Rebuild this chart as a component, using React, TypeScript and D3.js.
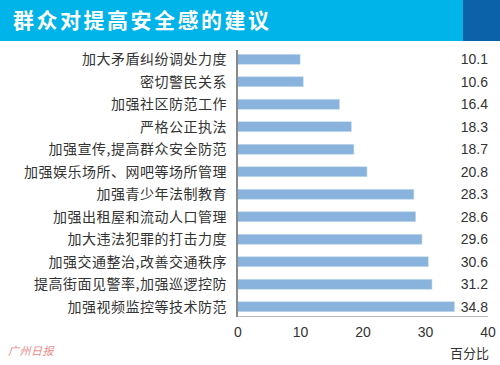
import { useEffect, useRef } from 'react';
import * as d3 from 'd3';

const categories = [
  '加大矛盾纠纷调处力度',
  '密切警民关系',
  '加强社区防范工作',
  '严格公正执法',
  '加强宣传,提高群众安全防范',
  '加强娱乐场所、网吧等场所管理',
  '加强青少年法制教育',
  '加强出租屋和流动人口管理',
  '加大违法犯罪的打击力度',
  '加强交通整治,改善交通秩序',
  '提高街面见警率,加强巡逻控防',
  '加强视频监控等技术防范',
];
const values = [10.1, 10.6, 16.4, 18.3, 18.7, 20.8, 28.3, 28.6, 29.6, 30.6, 31.2, 34.8];
const xTicks = [0, 10, 20, 30, 40];
const title = '群众对提高安全感的建议';
const unitLabel = '百分比';
const sourceLabel = '广州日报';

export default function App() {
  const ref = useRef<SVGSVGElement>(null);

  useEffect(() => {
    if (!ref.current) return;
    const svg = d3.select(ref.current);
    svg.selectAll('*').remove();

    const width = 500;
    const font = '"Noto Sans CJK SC", "Noto Sans", sans-serif';

    // header band
    svg.append('rect').attr('x', 0).attr('y', 0).attr('width', width).attr('height', 41).attr('fill', '#00b3e9');
    svg.append('rect').attr('x', 463).attr('y', 0).attr('width', 37).attr('height', 41).attr('fill', '#0b62a8');
    svg.append('text')
      .attr('x', 13).attr('y', 28)
      .attr('fill', '#fff')
      .style('font-family', font)
      .style('font-size', '21px')
      .style('font-weight', 'bold')
      .style('letter-spacing', '2.5px')
      .text(title);

    const x = d3.scaleLinear().domain([0, 40]).range([237, 487]);
    const y = d3.scaleBand<string>().domain(categories).range([48, 318]);
    const barH = 10;

    // bottom line
    svg.append('line')
      .attr('x1', x(0)).attr('x2', 488)
      .attr('y1', 316.5).attr('y2', 316.5)
      .attr('stroke', '#b8b8b8').attr('stroke-width', 1);

    // bars
    svg.selectAll('rect.bar')
      .data(values)
      .enter()
      .append('rect')
      .attr('class', 'bar')
      .attr('x', x(0))
      .attr('y', (_, i) => y(categories[i])! + y.bandwidth() / 2 - barH / 2)
      .attr('width', d => x(d) - x(0))
      .attr('height', barH)
      .attr('fill', '#89b3dc')
      .attr('stroke', '#c5dcef')
      .attr('stroke-width', 0.6);

    // vertical axis line
    svg.append('line')
      .attr('x1', x(0)).attr('x2', x(0))
      .attr('y1', 50).attr('y2', 317)
      .attr('stroke', '#8a8a8a').attr('stroke-width', 2);

    // category labels
    svg.selectAll('text.cat')
      .data(categories)
      .enter()
      .append('text')
      .attr('class', 'cat')
      .attr('x', 227)
      .attr('y', d => y(d)! + y.bandwidth() / 2)
      .attr('dy', '0.35em')
      .attr('text-anchor', 'end')
      .attr('fill', '#333')
      .style('font-family', font)
      .style('font-size', '14px')
      .style('letter-spacing', '0.5px')
      .text(d => d);

    // value labels
    svg.selectAll('text.val')
      .data(values)
      .enter()
      .append('text')
      .attr('class', 'val')
      .attr('x', 488)
      .attr('y', (_, i) => y(categories[i])! + y.bandwidth() / 2)
      .attr('dy', '0.36em')
      .attr('text-anchor', 'end')
      .attr('fill', '#333')
      .style('font-family', '"Liberation Sans", Arial, sans-serif')
      .style('font-size', '14px')
      .text(d => d.toFixed(1));

    // x tick labels
    svg.selectAll('text.tick')
      .data(xTicks)
      .enter()
      .append('text')
      .attr('class', 'tick')
      .attr('x', d => x(d) + 1)
      .attr('y', 332)
      .attr('dy', '0.35em')
      .attr('text-anchor', 'middle')
      .attr('fill', '#333')
      .style('font-family', '"Liberation Sans", Arial, sans-serif')
      .style('font-size', '14px')
      .text(d => d);

    svg.append('text')
      .attr('x', 489).attr('y', 353)
      .attr('dy', '0.35em')
      .attr('text-anchor', 'end')
      .attr('fill', '#333')
      .style('font-family', font)
      .style('font-size', '13px')
      .text(unitLabel);

    svg.append('text')
      .attr('x', 8).attr('y', 355)
      .attr('fill', '#e98b8b')
      .style('font-family', font)
      .style('font-size', '11px')
      .style('font-style', 'italic')
      .style('letter-spacing', '0.5px')
      .text(sourceLabel);
  }, []);

  return (
    <svg
      ref={ref}
      width={500}
      height={365}
      style={{ position: 'absolute', left: 0, top: 0, display: 'block', background: '#fff' }}
    />
  );
}
